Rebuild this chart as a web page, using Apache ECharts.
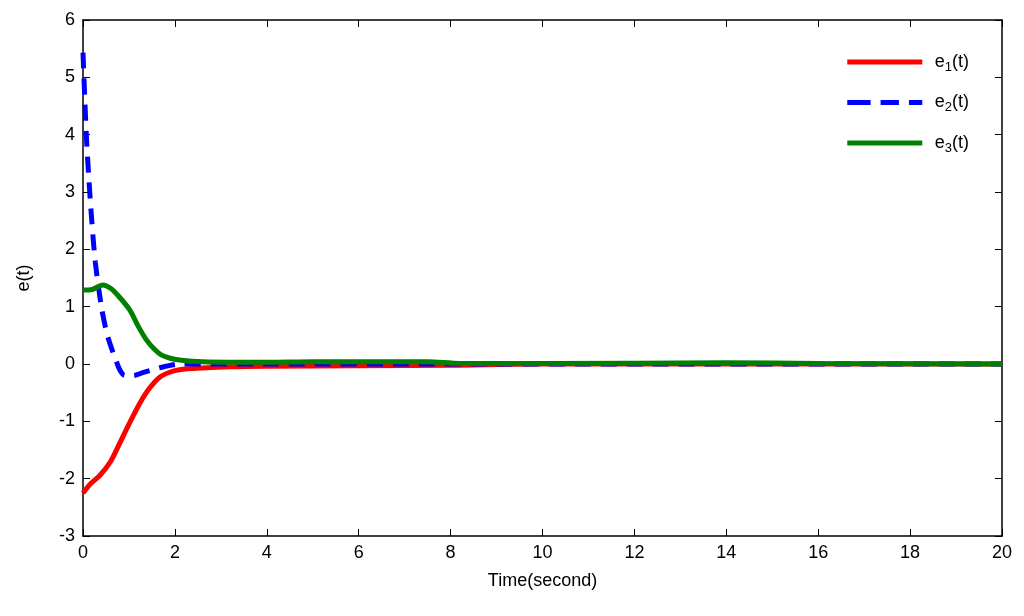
<!DOCTYPE html>
<html>
<head>
  <meta charset="utf-8">
  <title>e(t)</title>
  <script src="https://cdn.jsdelivr.net/npm/echarts@6/dist/echarts.min.js"></script>
</head>
<body style="margin:0">
<div id="container" style="width:1024px;height:616px"></div>
<script>
  // values
  var e1 = [[0,-2.25],[0.15,-2.1],[0.37,-1.94],[0.6,-1.7],[0.8,-1.38],[1.0,-1.05],[1.24,-0.68],[1.45,-0.42],[1.67,-0.23],[1.9,-0.14],[2.1,-0.1],[2.6,-0.07],[3.2,-0.05],[4,-0.04],[6,-0.03],[8,-0.02],[10,0],[14,0],[20,0]];
  var e2 = [[0,5.43],[0.07,4.03],[0.13,3.2],[0.19,2.51],[0.27,1.76],[0.4,1.0],[0.5,0.6],[0.58,0.37],[0.7,0.1],[0.8,-0.1],[0.91,-0.2],[1.1,-0.2],[1.3,-0.15],[1.52,-0.1],[1.8,-0.04],[2.1,0],[4,0],[8,0],[12,0],[20,0]];
  var e3 = [[0,1.29],[0.2,1.3],[0.43,1.38],[0.6,1.32],[0.8,1.16],[1.02,0.94],[1.2,0.66],[1.38,0.42],[1.55,0.26],[1.7,0.16],[1.9,0.1],[2.1,0.07],[2.6,0.04],[4,0.03],[5,0.04],[6,0.04],[7.5,0.04],[8.2,0.01],[10,0.01],[14,0.02],[16,0.01],[20,0]];

  var chart = echarts.init(document.getElementById('container'));
  var font = 'Arial, Liberation Sans, sans-serif';
  var lineAx = { onZero: false, lineStyle: { color: '#000', width: 1.5 } };
  var tickAx = { inside: true, length: 7, lineStyle: { color: '#000' } };
  var labelAx = { color: '#000', fontSize: 18, fontFamily: font };
  var nameAx = { color: '#000', fontSize: 18, fontFamily: font };
  var legendLine = 'path://M0,0 L90,0 L90,6 L0,6 Z';
  chart.setOption({
    animation: false,
    grid: { left: 83, right: 22, top: 20, bottom: 80 },
    xAxis: [
      { type: 'value', min: 0, max: 20, interval: 2, name: 'Time(second)', nameLocation: 'center', nameGap: 36,
        axisLine: lineAx, axisTick: tickAx, axisLabel: labelAx, nameTextStyle: nameAx, splitLine: { show: false } },
      { type: 'value', position: 'top', min: 0, max: 20, interval: 2,
        axisLine: lineAx, axisTick: tickAx, axisLabel: { show: false }, splitLine: { show: false } }
    ],
    yAxis: [
      { type: 'value', min: -3, max: 6, interval: 1, name: 'e(t)', nameLocation: 'center', nameGap: 50,
        axisLine: lineAx, axisTick: tickAx, axisLabel: labelAx, nameTextStyle: nameAx, splitLine: { show: false } },
      { type: 'value', position: 'right', min: -3, max: 6, interval: 1,
        axisLine: lineAx, axisTick: tickAx, axisLabel: { show: false }, splitLine: { show: false } }
    ],
    legend: {
      right: 50, top: 48, orient: 'vertical', itemWidth: 90, itemHeight: 5, itemGap: 20,
      data: [
        { name: 'e1', icon: legendLine },
        { name: 'e2', icon: 'path://M0,0 L28,0 L28,6 L0,6 Z M40,0 L62,0 L62,6 L40,6 Z M74,0 L90,0 L90,6 L74,6 Z' },
        { name: 'e3', icon: legendLine }
      ],
      formatter: function (n) { return '{a|e}{b|' + n.slice(1) + '}{a|(t)}'; },
      textStyle: { rich: {
        a: { fontSize: 18, fontFamily: font, color: '#000' },
        b: { fontSize: 13, fontFamily: font, color: '#000', padding: [10, 0, 0, 0] }
      } }
    },
    series: [
      { name: 'e1', type: 'line', data: e1, smooth: 0.3, symbol: 'none', lineStyle: { color: '#ff0000', width: 5 }, itemStyle: { color: '#ff0000' } },
      { name: 'e2', type: 'line', data: e2, smooth: 0.3, symbol: 'none', lineStyle: { color: '#0000ff', width: 5, type: [16, 10] }, itemStyle: { color: '#0000ff' } },
      { name: 'e3', type: 'line', data: e3, smooth: 0.3, symbol: 'none', lineStyle: { color: '#008000', width: 5 }, itemStyle: { color: '#008000' } }
    ]
  });
</script>
</body>
</html>
